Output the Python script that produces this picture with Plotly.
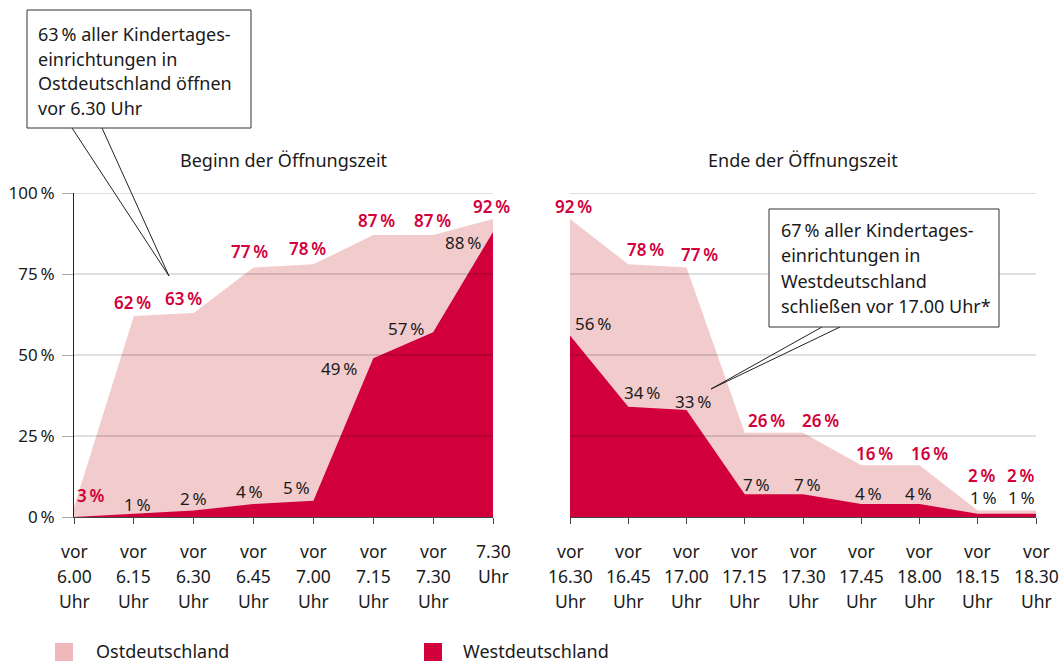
import plotly.graph_objects as go

W, H = 1064, 662

# ---------------- data ----------------
start_labels = ["vor<br>6.00<br>Uhr", "vor<br>6.15<br>Uhr", "vor<br>6.30<br>Uhr", "vor<br>6.45<br>Uhr",
                "vor<br>7.00<br>Uhr", "vor<br>7.15<br>Uhr", "vor<br>7.30<br>Uhr", "7.30<br>Uhr"]
start_ost = [3, 62, 63, 77, 78, 87, 87, 92]
start_west = [0, 1, 2, 4, 5, 49, 57, 88]

end_labels = ["vor<br>16.30<br>Uhr", "vor<br>16.45<br>Uhr", "vor<br>17.00<br>Uhr", "vor<br>17.15<br>Uhr",
              "vor<br>17.30<br>Uhr", "vor<br>17.45<br>Uhr", "vor<br>18.00<br>Uhr", "vor<br>18.15<br>Uhr",
              "vor<br>18.30<br>Uhr"]
end_ost = [92, 78, 77, 26, 26, 16, 16, 2, 2]
end_west = [56, 34, 33, 7, 7, 4, 4, 1, 1]

y_ticks = [0, 25, 50, 75, 100]
series_names = ["Ostdeutschland", "Westdeutschland"]
titles = ["Beginn der Öffnungszeit", "Ende der Öffnungszeit"]
note_left = ["63\u2009% aller Kindertages-", "einrichtungen in", "Ostdeutschland öffnen", "vor 6.30 Uhr"]
note_right = ["67\u2009% aller Kindertages-", "einrichtungen in", "Westdeutschland", "schließen vor 17.00 Uhr*"]

# ---------------- styles ----------------
PINK = "#F2CBCC"
PINK_LEG = "#EFB8BC"
RED = "#D2003A"
TXT = "#1a1a1a"
FONT = "Noto Sans"
FS = 17      # data labels, tick labels
FS_T = 18    # titles, notes, legend
FS_C = 17.5  # category labels

# label offsets (pixels, dx right, dy down)
start_ost_off = [(17, -12), (-1, -14), (-10, -14), (-4, -16), (-6, -16), (3, -15), (-1, -15), (-2, -12)]
start_west_off = [None, (4, -9), (0, -12), (-4, -13), (-17, -13), (-34, 10), (-27, -4), (-30, 11)]
end_ost_off = [(3, -12), (17, -15), (13, -13), (22, -12), (17, -12), (13, -12), (10, -12), (4, -35), (-15, -35)]
end_west_off = [(23, -12), (14, -14), (6, -9), (12, -10), (4, -10), (7, -11), (-1, -11), (6, -16), (-15, -16)]


def px(x):
    return x / W


def py(y):
    return 1 - y / H


fig = go.Figure()

panels = [
    ("x", "y", start_labels, start_ost, start_west, start_ost_off, start_west_off),
    ("x2", "y2", end_labels, end_ost, end_west, end_ost_off, end_west_off),
]

annotations = []
shapes = []

for xa, ya, labels, ost, west, ooff, woff in panels:
    xs = list(range(len(labels)))
    fig.add_trace(go.Scatter(x=xs, y=ost, xaxis=xa, yaxis=ya, mode="lines", line=dict(width=0),
                             fill="tozeroy", fillcolor=PINK, name=series_names[0], showlegend=False,
                             hoverinfo="skip"))
    fig.add_trace(go.Scatter(x=xs, y=west, xaxis=xa, yaxis=ya, mode="lines", line=dict(width=0),
                             fill="tozeroy", fillcolor=RED, name=series_names[1], showlegend=False,
                             hoverinfo="skip"))
    # data labels
    for i, v in enumerate(ost):
        dx, dy = ooff[i]
        annotations.append(dict(x=i, y=v, xref=xa, yref=ya, text=f"{v}\u2009%", showarrow=False,
                                xshift=dx, yshift=-dy, xanchor="center", yanchor="middle",
                                font=dict(family=FONT, size=FS, color=RED, weight=600)))
    for i, v in enumerate(west):
        if woff[i] is None:
            continue
        dx, dy = woff[i]
        annotations.append(dict(x=i, y=v, xref=xa, yref=ya, text=f"{v}\u2009%", showarrow=False,
                                xshift=dx, yshift=-dy, xanchor="center", yanchor="middle",
                                font=dict(family=FONT, size=FS, color=TXT)))
    # category labels (three lines each)
    for i, lab in enumerate(labels):
        for k, line in enumerate(lab.split("<br>")):
            annotations.append(dict(x=i, y=py(551 + 25 * k), xref=xa, yref="paper", text=line,
                                    showarrow=False, xanchor="center", yanchor="middle",
                                    font=dict(family=FONT, size=FS_C, color=TXT)))
    # gridlines drawn above the areas
    for t in y_ticks[1:]:
        shapes.append(dict(type="line", xref=f"{xa} domain", yref=ya, x0=0, x1=1, y0=t, y1=t,
                           line=dict(color="rgba(0,0,0,0.25)", width=1), layer="above"))

# panel titles
annotations.append(dict(x=(74 + 493) / 2 / W, y=py(160), xref="paper", yref="paper", text=titles[0],
                        showarrow=False, xanchor="center", yanchor="middle",
                        font=dict(family=FONT, size=FS_T, color=TXT)))
annotations.append(dict(x=(570 + 1036) / 2 / W, y=py(160), xref="paper", yref="paper", text=titles[1],
                        showarrow=False, xanchor="center", yanchor="middle",
                        font=dict(family=FONT, size=FS_T, color=TXT)))

# callout boxes
shapes.append(dict(type="path", xref="paper", yref="paper",
                   path=f"M {px(72)} {py(128)} L {px(169)} {py(276)} L {px(102)} {py(128)}",
                   line=dict(color="#222", width=1), layer="above"))
shapes.append(dict(type="rect", xref="paper", yref="paper", x0=px(27), x1=px(251), y0=py(128), y1=py(10),
                   line=dict(color="#333", width=1), fillcolor="white", layer="above"))
for k, line in enumerate(note_left):
    annotations.append(dict(x=px(36), y=py(34 + 24.7 * k), xref="paper", yref="paper", text=line,
                            showarrow=False, xanchor="left", yanchor="middle",
                            font=dict(family=FONT, size=FS_T, color=TXT)))

shapes.append(dict(type="path", xref="paper", yref="paper",
                   path=f"M {px(822)} {py(327)} L {px(711)} {py(389)} L {px(840)} {py(327)}",
                   line=dict(color="#222", width=1), layer="above"))
shapes.append(dict(type="rect", xref="paper", yref="paper", x0=px(769), x1=px(999), y0=py(327), y1=py(209),
                   line=dict(color="#333", width=1), fillcolor="white", layer="above"))
for k, line in enumerate(note_right):
    annotations.append(dict(x=px(779), y=py(230 + 25.3 * k), xref="paper", yref="paper", text=line,
                            showarrow=False, xanchor="left", yanchor="middle",
                            font=dict(family=FONT, size=FS_T, color=TXT)))

# legend (manual)
for (sx, tx, col, name) in [(55, 94, PINK_LEG, series_names[0]), (424, 461, RED, series_names[1])]:
    shapes.append(dict(type="rect", xref="paper", yref="paper", x0=px(sx), x1=px(sx + 18),
                       y0=py(661), y1=py(643), fillcolor=col, line=dict(width=0)))
    annotations.append(dict(x=px(tx), y=py(651), xref="paper", yref="paper", text=name, showarrow=False,
                            xanchor="left", yanchor="middle", font=dict(family=FONT, size=FS_T, color=TXT)))

ydom = [py(517), py(193)]
axis_common = dict(showgrid=False, zeroline=False, showline=True, linecolor="#444", linewidth=1,
                   ticks="outside", ticklen=6, tickcolor="#444", showticklabels=False, automargin=False)

fig.update_layout(
    width=W, height=H, autosize=False,
    margin=dict(l=0, r=0, t=0, b=0, pad=0, autoexpand=False),
    paper_bgcolor="white", plot_bgcolor="white",
    font=dict(family=FONT, size=FS, color=TXT),
    showlegend=False,
    xaxis=dict(domain=[px(74), px(493)], range=[0, len(start_labels) - 1],
               tickvals=list(range(len(start_labels))), **axis_common),
    xaxis2=dict(domain=[px(570), px(1036)], range=[0, len(end_labels) - 1],
                tickvals=list(range(len(end_labels))), **axis_common),
    yaxis=dict(domain=ydom, range=[0, 100], tickvals=y_ticks, automargin=False,
               ticktext=[f"{t}\u2009%" for t in y_ticks], showgrid=False, zeroline=False,
               showline=True, linecolor="#222", linewidth=1, ticks="outside", ticklen=11,
               tickcolor="#aaa", ticklabelstandoff=4, layer="above traces",
               tickfont=dict(family=FONT, size=FS, color=TXT)),
    yaxis2=dict(domain=ydom, range=[0, 100], anchor="x2", showgrid=False, zeroline=False,
                automargin=False, showline=False, showticklabels=False, ticks=""),
    annotations=annotations,
    shapes=shapes,
)
fig.update_xaxes(layer="above traces")
fig.layout.xaxis2.anchor = "y2"

fig.write_html("out.html", config={"displayModeBar": False},
               post_script="document.body.style.margin='0';")
